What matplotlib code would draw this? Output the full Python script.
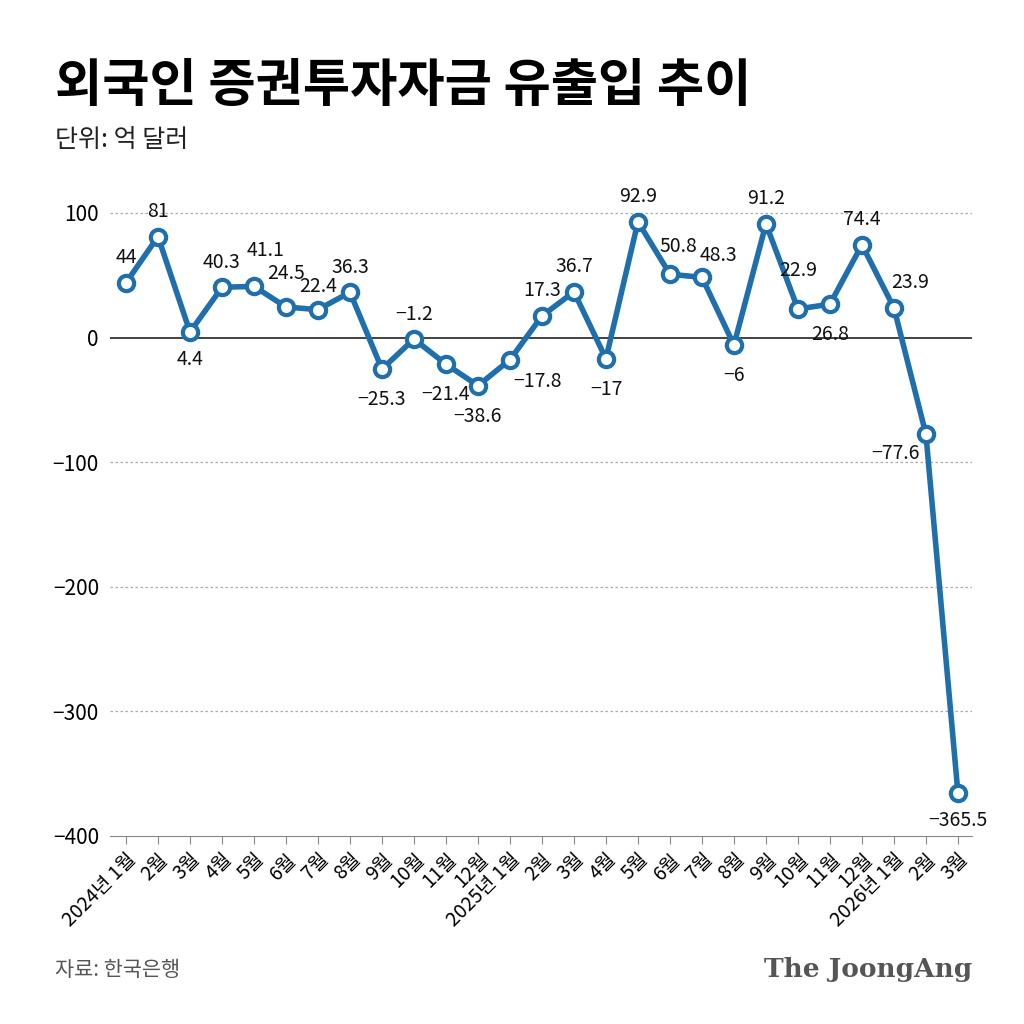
import matplotlib.pyplot as plt

plt.rcParams['font.family'] = ['Noto Sans CJK KR', 'DejaVu Sans']

months = ['2024년 1월', '2월', '3월', '4월', '5월', '6월', '7월', '8월', '9월', '10월', '11월', '12월',
          '2025년 1월', '2월', '3월', '4월', '5월', '6월', '7월', '8월', '9월', '10월', '11월', '12월',
          '2026년 1월', '2월', '3월']
values = [44, 81, 4.4, 40.3, 41.1, 24.5, 22.4, 36.3, -25.3, -1.2, -21.4, -38.6,
          -17.8, 17.3, 36.7, -17, 92.9, 50.8, 48.3, -6, 91.2, 22.9, 26.8, 74.4,
          23.9, -77.6, -365.5]
labels = ['44', '81', '4.4', '40.3', '41.1', '24.5', '22.4', '36.3', '-25.3', '-1.2', '-21.4', '-38.6',
          '-17.8', '17.3', '36.7', '-17', '92.9', '50.8', '48.3', '-6', '91.2', '22.9', '26.8', '74.4',
          '23.9', '-77.6', '-365.5']
# label offsets in points (dx, dy)
offsets = [(0, 18), (0, 18), (0, -20), (0, 18), (8, 26), (0, 24), (0, 17), (0, 18),
           (0, -22), (0, 18), (0, -22), (0, -22), (20, -16), (0, 18), (0, 18), (0, -22),
           (0, 18), (6, 20), (12, 16), (0, -22), (0, 18), (0, 28), (0, -22), (0, 18),
           (12, 18), (-22, -14), (0, -20)]

fig = plt.figure(figsize=(10.24, 10.24), dpi=100)
ax = fig.add_axes([110 / 1024, 1 - 836 / 1024, 862 / 1024, 645.5 / 1024])
x = list(range(len(values)))
color = '#1f6fad'
ax.plot(x, values, color=color, lw=4, marker='o', ms=11, mfc='white', mec=color, mew=3, zorder=3)
for i, (v, lab, off) in enumerate(zip(values, labels, offsets)):
    ax.annotate(lab.replace('-', '−'), (i, v), xytext=off, textcoords='offset points',
                ha='center', va='center', fontsize=14, color='#111111', zorder=4)

ax.set_xlim(-0.5, 26.44)
ax.set_ylim(-400, 118)
ax.set_yticks([100, 0, -100, -200, -300, -400])
ax.set_yticklabels(['100', '0', '−100', '−200', '−300', '−400'], fontsize=15)
for y in [100, -100, -200, -300]:
    ax.axhline(y, color='#aaaaaa', lw=0.9, ls=(0, (2, 2)), zorder=1)
ax.axhline(0, color='#222222', lw=1.2, zorder=1)
for s in ['left', 'right', 'top']:
    ax.spines[s].set_visible(False)
ax.spines['bottom'].set_color('#888888')
ax.tick_params(axis='y', length=0, pad=8)
ax.set_xticks(x)
ax.set_xticklabels(months, rotation=45, ha='right', rotation_mode='anchor', fontsize=14)
ax.tick_params(axis='x', length=6, color='#888888')

fig.text(55 / 1024, 1 - 85 / 1024, '외국인 증권투자자금 유출입 추이', fontsize=37, fontweight='bold', va='center')
fig.text(55 / 1024, 1 - 140 / 1024, '단위: 억 달러', fontsize=18, va='center', color='#222222')
fig.text(55 / 1024, 1 - 970 / 1024, '자료: 한국은행', fontsize=15, va='center', color='#555555')
fig.text(972 / 1024, 1 - 970 / 1024, 'The JoongAng', fontsize=19, va='center', ha='right',
         color='#555555', family='DejaVu Serif', fontweight='bold')

fig.savefig('out.png', dpi=100)
